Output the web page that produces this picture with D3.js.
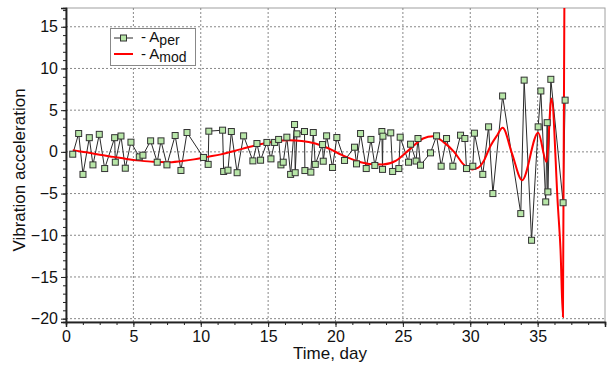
<!DOCTYPE html>
<html><head><meta charset="utf-8">
<script src="https://cdn.jsdelivr.net/npm/d3@7"></script>
<style>body{margin:0;background:#fff;} text{font-family:"Liberation Sans",Arial,sans-serif;}</style>
</head><body><svg id="c" width="608" height="365"></svg>
<script>
// A_per measured series
const perT = [0.50,0.94,1.26,1.73,2.00,2.47,2.87,3.61,3.66,4.08,4.40,4.82,5.44,5.71,6.28,6.77,7.05,7.49,8.10,8.53,8.98,
  10.20,10.55,10.60,11.62,11.70,12.02,12.27,12.70,13.18,13.87,14.17,14.44,14.91,15.21,15.48,15.78,15.95,16.12,16.39,16.67,16.96,17.01,17.14,
  17.70,17.73,18.17,18.35,18.50,19.04,19.09,19.34,19.78,20.10,20.67,21.41,21.56,21.86,22.28,22.63,22.92,23.44,23.49,23.52,24.10,24.24,
  24.70,24.80,25.42,25.57,25.98,26.12,26.31,27.05,27.50,27.84,28.24,28.71,29.28,29.60,29.72,30.19,30.31,30.93,31.36,31.68,32.40,
  33.75,34.00,34.55,35.04,35.24,35.60,35.71,35.76,35.98,36.89,37.04];
const perV = [-0.28,2.2,-2.7,1.7,-1.56,2.1,-2.0,1.7,-1.24,1.9,-1.96,1.16,-0.6,-0.4,1.32,-1.24,1.32,-1.56,1.96,-2.23,2.32,
  -0.67,-1.5,2.48,2.6,-2.35,-2.2,2.44,-2.5,1.92,-1.08,1.0,-1.0,1.13,-0.84,1.13,1.49,-1.56,-1.24,1.76,-2.7,3.28,-2.5,2.16,
  2.44,-2.24,-2.43,2.32,-1.5,0.88,-1.12,1.92,-1.87,1.72,-1.03,0.56,-1.44,2.2,-2.0,1.49,-1.63,2.44,-2.1,1.88,2.28,-2.35,
  -2.0,1.76,-1.24,0.92,-1.1,1.6,-1.6,-0.12,1.92,-1.72,1.6,-1.72,2.0,1.6,-2.0,-1.72,2.24,-2.7,3.0,-5.0,6.7,
  -7.4,8.6,-10.6,3.0,7.3,-6.0,3.5,-4.8,8.7,-6.1,6.2];
// A_mod model curve
const modT = [0.5,1.5,2.5,3.5,4.5,5.5,6.5,7.5,8.5,9.5,10.5,11.5,12.5,13.5,14.5,15.5,16.5,17.5,18.5,19.5,20.5,21.5,22.5,23.5,24.5,25.5,
  26.5,27.25,28.0,28.8,29.5,30.15,30.6,31.0,31.5,32.0,32.4,33.1,33.85,35.04,35.66,36.03,36.5,36.7,36.88,37.02];
const modV = [0.2,-0.05,-0.35,-0.6,-0.85,-1.05,-1.2,-1.25,-1.12,-0.9,-0.6,-0.3,0.1,0.55,0.95,1.25,1.38,1.3,1.0,0.4,-0.4,-1.05,-1.45,-1.5,-1.05,0.3,
  1.6,1.88,1.2,0.0,-1.5,-2.1,-1.9,-1.1,0.7,2.0,2.9,-0.2,-3.4,2.3,-1.2,6.4,-6.4,-11.8,-19.8,30];
const xTicks = [0,5,10,15,20,25,30,35];
const yTicks = [-20,-15,-10,-5,0,5,10,15];

const svg = d3.select("#c");
const L = 66, R = 605, T = 8, B = 322;
const x = d3.scaleLinear().domain([0,40]).range([L,R]);
const y = d3.scaleLinear().domain([-20.4,17.25]).range([B,T]);

// frame
svg.append("rect").attr("x",L).attr("y",T).attr("width",R-L).attr("height",B-T)
  .attr("fill","#fff").attr("stroke","#a0a0a0").attr("stroke-width",1);

// grid
const g = svg.append("g");
g.selectAll(".gx").data(xTicks.filter(d=>d>0)).join("line")
  .attr("x1",d=>x(d)).attr("x2",d=>x(d)).attr("y1",T).attr("y2",B)
  .attr("stroke","#888").attr("stroke-dasharray","2,2").attr("stroke-width",1);
g.selectAll(".gy").data(yTicks).join("line")
  .attr("y1",d=>y(d)).attr("y2",d=>y(d)).attr("x1",L).attr("x2",R)
  .attr("stroke","#888").attr("stroke-dasharray","2,2").attr("stroke-width",1);

// axes
const xAxis = d3.axisBottom(x).tickValues(xTicks).tickSize(5).tickPadding(4);
const xMinor = d3.axisBottom(x).tickValues(d3.range(0,40.01,1.25)).tickSize(3).tickFormat("");
const yAxis = d3.axisLeft(y).tickValues(yTicks).tickSize(5).tickPadding(3);
const yMinor = d3.axisLeft(y).tickValues(d3.range(-20,17.01,1)).tickSize(3).tickFormat("");
function styleAxis(sel, fs){
  sel.select(".domain").attr("stroke","#222").attr("stroke-width",1.5);
  sel.selectAll(".tick line").attr("stroke","#222");
  sel.selectAll("text").attr("font-size",fs).attr("fill","#111")
    .attr("font-family","'Liberation Sans',Arial,sans-serif");
}
svg.append("g").attr("transform",`translate(0,${B})`).call(xMinor).call(s=>styleAxis(s,16));
svg.append("g").attr("transform",`translate(0,${B})`).call(xAxis).call(s=>styleAxis(s,16));
svg.append("g").attr("transform",`translate(${L},0)`).call(yMinor).call(s=>styleAxis(s,16));
svg.append("g").attr("transform",`translate(${L},0)`).call(yAxis).call(s=>styleAxis(s,16));

// titles
svg.append("text").attr("x",330).attr("y",359).attr("text-anchor","middle")
  .attr("font-size",17).attr("fill","#111").text("Time, day");
svg.append("text").attr("transform","translate(25,170) rotate(-90)").attr("text-anchor","middle")
  .attr("font-size",17).attr("fill","#111").text("Vibration acceleration");

// clip
svg.append("clipPath").attr("id","clip").append("rect")
  .attr("x",L).attr("y",T).attr("width",R-L).attr("height",B-T);
const plot = svg.append("g").attr("clip-path","url(#clip)");

const per = perT.map((t,i)=>({t,v:perV[i]}));
const mod = modT.map((t,i)=>({t,v:modV[i]}));
const line = d3.line().x(d=>x(d.t)).y(d=>y(d.v));

plot.append("path").datum(per).attr("d",line).attr("fill","none")
  .attr("stroke","#2a2a2a").attr("stroke-width",1);
plot.append("path").datum(mod).attr("d",line.curve(d3.curveMonotoneX)).attr("fill","none")
  .attr("stroke","#ff0000").attr("stroke-width",2);
plot.selectAll(".m").data(per).join("rect")
  .attr("x",d=>x(d.t)-3).attr("y",d=>y(d.v)-3).attr("width",6).attr("height",6)
  .attr("fill","#b8e6a8").attr("stroke","#333").attr("stroke-width",1);

// legend
const lg = svg.append("g");
lg.append("rect").attr("x",110.5).attr("y",28.5).attr("width",85).attr("height",37)
  .attr("fill","#fff").attr("stroke","#888");
lg.append("line").attr("x1",114).attr("x2",133).attr("y1",38).attr("y2",38).attr("stroke","#2a2a2a");
lg.append("rect").attr("x",120.5).attr("y",35).attr("width",6).attr("height",6)
  .attr("fill","#b8e6a8").attr("stroke","#333");
lg.append("line").attr("x1",114).attr("x2",133).attr("y1",54).attr("y2",54).attr("stroke","#ff0000").attr("stroke-width",2);
const t1 = lg.append("text").attr("x",141).attr("y",42).attr("font-size",15).attr("fill","#111");
t1.append("tspan").text("- A");
t1.append("tspan").attr("dy",3).attr("font-size",14).text("per");
const t2 = lg.append("text").attr("x",141).attr("y",59).attr("font-size",15).attr("fill","#111");
t2.append("tspan").text("- A");
t2.append("tspan").attr("dy",3).attr("font-size",14).text("mod");
</script></body></html>
